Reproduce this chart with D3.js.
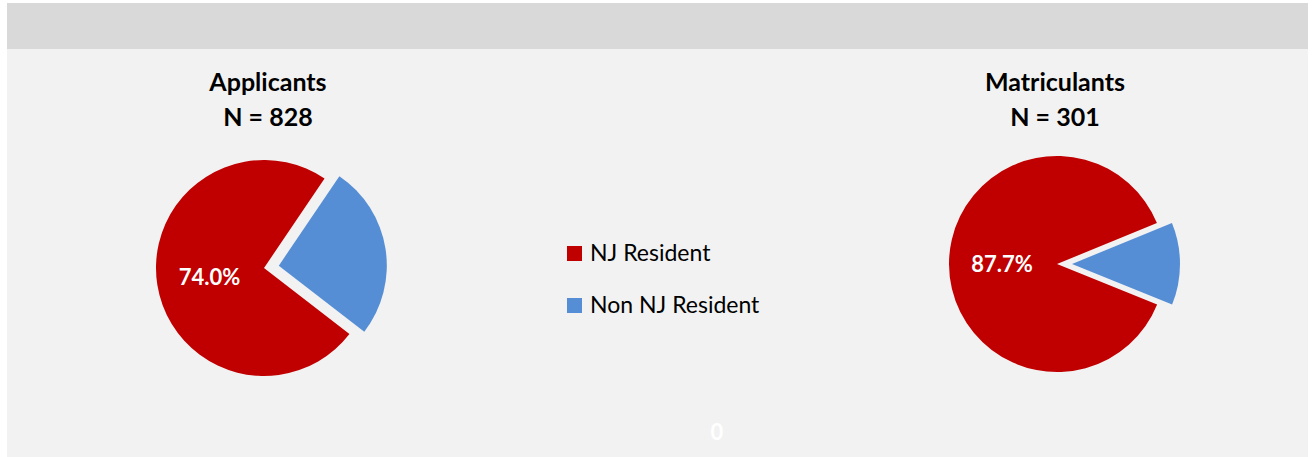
<!DOCTYPE html>
<html lang="en">
<head>
	<meta charset="UTF-8"/>
	<title>NJ Resident share - Applicants and Matriculants</title>
	<script src="https://d3js.org/d3.v7.min.js"></script>
	<style>
		body { margin: 0; background: #ffffff; }
		svg { display: block; }
		text { font-family: Lato, "Open Sans", sans-serif; }
	</style>
</head>
<body>
	<script>
		var w = 1314;
		var h = 457;

		// data
		var categories = ["NJ Resident", "Non NJ Resident"];
		var groups = ["Applicants", "Matriculants"];
		var totals = [828, 301];
		var njResident = [74.0, 87.7];
		var nonNjResident = [26.0, 12.3];

		var colors = ["#c00000", "#558ed5"];

		// where each pie sits, and the angle the first slice starts at (degrees)
		var pieLayout = [
			{ cx: 264, cy: 268, rotate: 127.7, titleX: 268 },
			{ cx: 1057, cy: 264, rotate: 112, titleX: 1055 }
		];
		var radius = 108;
		var explode = 15;

		var color = d3.scaleOrdinal().domain(categories).range(colors);

		var svg = d3.select("body")
					.append("svg")
					.attr("width", w)
					.attr("height", h);

		// background panels
		svg.append("rect")
			.attr("x", 7).attr("y", 3)
			.attr("width", 1301).attr("height", 46)
			.attr("fill", "#d9d9d9");
		svg.append("rect")
			.attr("x", 7).attr("y", 49)
			.attr("width", 1301).attr("height", h - 49)
			.attr("fill", "#f2f2f2");

		var arc = d3.arc().innerRadius(0).outerRadius(radius);
		var labelArc = d3.arc().innerRadius(radius * 0.51).outerRadius(radius * 0.51);

		groups.forEach(function(name, i) {
			var lay = pieLayout[i];
			var start = lay.rotate * Math.PI / 180;
			var pie = d3.pie()
						.sort(null)
						.startAngle(start)
						.endAngle(start + 2 * Math.PI)
						.value(function(d) { return d.value; });

			var slices = pie([
				{ key: categories[0], value: njResident[i] },
				{ key: categories[1], value: nonNjResident[i] }
			]);

			var g = svg.append("g")
						.attr("transform", "translate(" + lay.cx + "," + lay.cy + ")");

			// non NJ slice is pulled out of the pie
			g.selectAll("path")
				.data(slices)
				.enter()
				.append("path")
				.attr("d", arc)
				.attr("fill", function(d) { return color(d.data.key); })
				.attr("transform", function(d) {
					if (d.index === 0) return null;
					var a = (d.startAngle + d.endAngle) / 2;
					return "translate(" + (Math.sin(a) * explode) + "," + (-Math.cos(a) * explode) + ")";
				});

			// percentage label on the NJ slice only
			g.append("text")
				.datum(slices[0])
				.attr("transform", function(d) { return "translate(" + labelArc.centroid(d) + ")"; })
				.attr("text-anchor", "middle")
				.attr("dy", "0.36em")
				.attr("fill", "#ffffff")
				.attr("font-weight", "bold")
				.attr("font-size", 22)
				.text(function(d) { return d.data.value.toFixed(1) + "%"; });

			// title
			var title = svg.append("text")
						.attr("x", lay.titleX)
						.attr("text-anchor", "middle")
						.attr("font-weight", "bold")
						.attr("font-size", 25)
						.attr("fill", "#000000");
			title.append("tspan").attr("x", lay.titleX).attr("y", 91).text(name);
			title.append("tspan").attr("x", lay.titleX).attr("y", 126).text("N = " + totals[i]);
		});

		// legend in the middle
		var legend = svg.selectAll(".legend")
						.data(categories)
						.enter()
						.append("g")
						.attr("class", "legend")
						.attr("transform", function(d, i) { return "translate(567," + (246 + i * 52) + ")"; });

		legend.append("rect")
			.attr("width", 15)
			.attr("height", 15)
			.attr("fill", function(d) { return color(d); });

		legend.append("text")
			.attr("x", 23)
			.attr("y", 15)
			.attr("font-size", 23)
			.attr("fill", "#000000")
			.text(function(d) { return d; });

		// stray axis label left over at the bottom
		svg.append("text")
			.attr("x", 717)
			.attr("y", 440)
			.attr("text-anchor", "middle")
			.attr("font-weight", "bold")
			.attr("font-size", 22)
			.attr("fill", "#ffffff")
			.text("0");
	</script>
</body>
</html>
